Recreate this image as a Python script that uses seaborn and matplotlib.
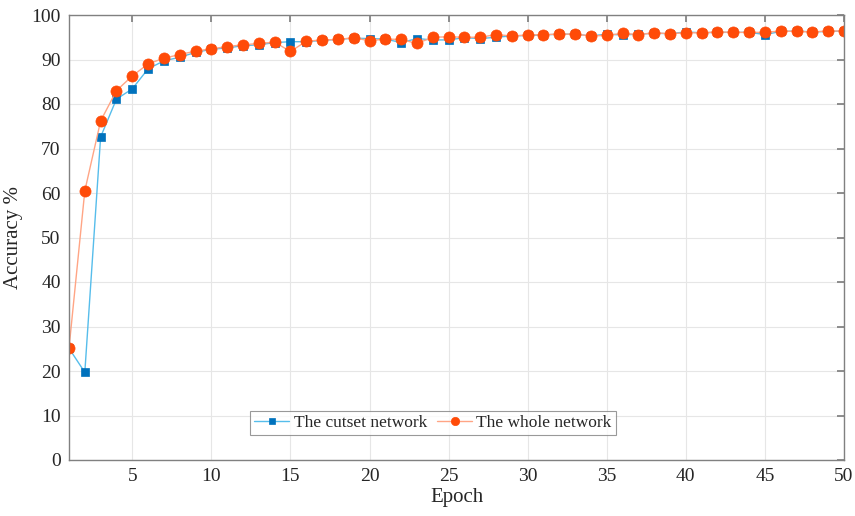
import numpy as np
import pandas as pd
import matplotlib
matplotlib.use("Agg")
import matplotlib.pyplot as plt
import seaborn as sns

epochs = list(range(1, 51))
cutset = [25.1, 19.7, 72.6, 81.1, 83.4, 87.9, 89.7, 90.5, 91.6, 92.3,
          92.6, 93.1, 93.3, 93.8, 94.0, 94.0, 94.3, 94.5, 94.8, 94.7,
          94.6, 93.8, 94.7, 94.4, 94.4, 94.9, 94.7, 95.0, 95.3, 95.4,
          95.5, 95.7, 95.7, 95.3, 95.7, 95.5, 95.7, 95.9, 95.8, 96.2,
          96.0, 96.1, 96.1, 96.1, 95.6, 96.3, 96.4, 96.2, 96.3, 96.4]
whole = [25.1, 60.5, 76.2, 83.0, 86.3, 89.0, 90.3, 91.1, 91.9, 92.4,
         92.9, 93.3, 93.6, 93.9, 91.8, 94.1, 94.4, 94.5, 94.9, 94.2,
         94.6, 94.5, 93.6, 95.0, 95.1, 95.0, 95.0, 95.6, 95.3, 95.5,
         95.6, 95.7, 95.7, 95.3, 95.4, 95.9, 95.6, 96.0, 95.8, 96.0,
         96.0, 96.2, 96.1, 96.1, 96.1, 96.4, 96.3, 96.2, 96.4, 96.4]
labels = ["The cutset network", "The whole network"]

df = pd.DataFrame({"Epoch": epochs * 2,
                   "Accuracy": cutset + whole,
                   "Series": [labels[0]] * 50 + [labels[1]] * 50})

sns.set_theme(style="white")
plt.rcParams['font.family'] = ['Liberation Serif', 'DejaVu Serif']

fig = plt.figure(figsize=(8.55, 5.16), dpi=100)
ax = fig.add_axes([69/855, 1 - 460/516, (844-69)/855, (460-15)/516])

line_colors = {labels[0]: "#56BDEB", labels[1]: "#FFA585"}
marker_colors = {labels[0]: "#0072BD", labels[1]: "#FF4B08"}
markers = {labels[0]: "s", labels[1]: "o"}
sizes = {labels[0]: 5.5, labels[1]: 8}

for lab in labels:
    sub = df[df["Series"] == lab]
    sns.lineplot(data=sub, x="Epoch", y="Accuracy", ax=ax, color=line_colors[lab],
                 linewidth=1.0, marker=markers[lab], markersize=sizes[lab],
                 markerfacecolor=marker_colors[lab], markeredgecolor=marker_colors[lab],
                 markeredgewidth=0.5, label=lab)

ax.set_xlim(1, 50)
ax.set_ylim(0, 100)
ax.set_xticks([5, 10, 15, 20, 25, 30, 35, 40, 45, 50])
ax.set_yticks(range(0, 101, 10))
ax.grid(True, color="#E6E6E6", linewidth=0.8)
ax.set_axisbelow(True)
for s in ax.spines.values():
    s.set_color("#808080")
    s.set_linewidth(1.0)
ax.tick_params(direction="in", length=5, color="#808080", top=True, right=True,
               labelsize=14, labelcolor="#262626", pad=6)
ax.set_xlabel("Epoch", fontsize=15, color="#262626", labelpad=2)
ax.set_ylabel("Accuracy %", fontsize=15, color="#262626", labelpad=6)

leg = ax.legend(loc="center",
                bbox_to_anchor=(((256 + 610) / 2 - 69) / 775, (460 - 423) / 445),
                ncol=2, fontsize=12.5, frameon=True, fancybox=False, handlelength=2.0,
                handletextpad=0.25, columnspacing=0.6, borderpad=0.25, borderaxespad=0)
for h in leg.legend_handles:
    h.set_markersize(h.get_markersize() * 0.75)
leg.get_frame().set_edgecolor("#808080")
leg.get_frame().set_linewidth(0.8)

fig.savefig("out.png", dpi=100)
